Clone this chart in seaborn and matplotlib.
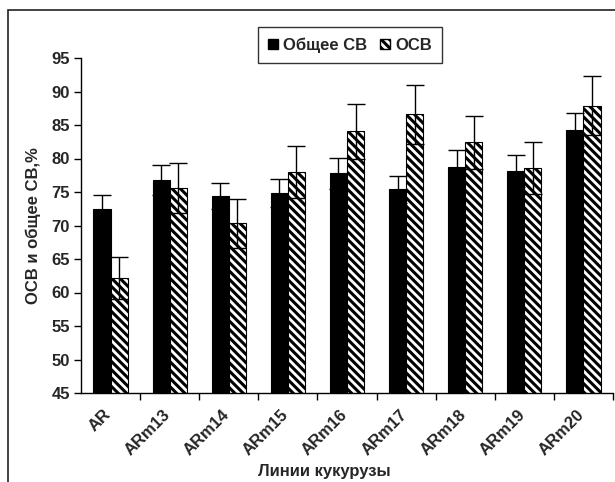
import numpy as np
import pandas as pd
import matplotlib
matplotlib.use('Agg')
import matplotlib.pyplot as plt
import matplotlib.transforms as mtransforms
import seaborn as sns
from matplotlib.patches import Patch, Rectangle

# данные
lines = ['AR', 'ARm13', 'ARm14', 'ARm15', 'ARm16', 'ARm17', 'ARm18', 'ARm19', 'ARm20']
total_dm = [72.4, 76.8, 74.4, 74.9, 77.8, 75.4, 78.8, 78.1, 84.3]   # Общее СВ
total_err = [2.2, 2.3, 2.0, 2.1, 2.3, 2.0, 2.5, 2.4, 2.5]
osv = [62.2, 75.6, 70.3, 78.0, 84.1, 86.6, 82.4, 78.6, 87.9]        # ОСВ
osv_err = [3.1, 3.7, 3.6, 3.9, 4.1, 4.4, 4.0, 3.9, 4.4]
series = ['Общее СВ', 'ОСВ']

df = pd.DataFrame({
    'line': lines * 2,
    'value': total_dm + osv,
    'series': [series[0]] * len(lines) + [series[1]] * len(lines),
})

sns.set_style('ticks')
plt.rcParams['font.family'] = ['Liberation Sans', 'DejaVu Sans']
plt.rcParams['font.weight'] = 'bold'
plt.rcParams['hatch.linewidth'] = 2.2

fs = 12

fig = plt.figure(figsize=(6.15, 4.82), dpi=100)
ax = fig.add_axes([81 / 615, 1 - 393 / 482, 532 / 615, 335 / 482])

sns.barplot(data=df, x='line', y='value', hue='series', palette=['black', 'white'],
            width=0.58, gap=0, errorbar=None, edgecolor='black', linewidth=0.8,
            legend=False, ax=ax)

# штриховка для ОСВ
for p in ax.containers[1]:
    p.set_hatch('\\\\\\\\')

# планки погрешностей
for cont, err in zip(ax.containers, [total_err, osv_err]):
    xs = [p.get_x() + p.get_width() / 2 for p in cont]
    ys = [p.get_height() for p in cont]
    ax.errorbar(xs, ys, yerr=err, fmt='none', ecolor='black', elinewidth=1,
                capsize=6.5, capthick=1, zorder=5)

ax.set_ylim(45, 95)
ax.set_yticks(range(45, 96, 5))
ax.set_xlim(-0.5, 8.5)
ax.set_xticks(range(len(lines)))
ax.set_xticklabels(lines, rotation=45, ha='right', va='top', rotation_mode='anchor')
ax.set_xticks(np.arange(0.5, 9, 1), minor=True)
ax.tick_params(axis='x', which='major', length=0, pad=10, labelsize=fs)
ax.tick_params(axis='x', which='minor', length=5, width=1, color='black', direction='out')
ax.tick_params(axis='y', length=5, width=1, color='black', direction='out', pad=3, labelsize=fs)
# подписи чуть левее, как в оригинале
shift = mtransforms.ScaledTranslation(-7 / 100, 0, fig.dpi_scale_trans)
for lbl in ax.get_xticklabels():
    lbl.set_transform(lbl.get_transform() + shift)
for lbl in ax.get_xticklabels() + ax.get_yticklabels():
    lbl.set_fontweight('bold')

sns.despine(ax=ax)
ax.spines['left'].set_color('black')
ax.spines['bottom'].set_color('black')
ax.spines['left'].set_linewidth(1)
ax.spines['bottom'].set_linewidth(1)

ax.set_xlabel('Линии кукурузы', fontsize=fs, fontweight='bold')
ax.set_ylabel('ОСВ и общее СВ,%', fontsize=fs, fontweight='bold')
ax.xaxis.set_label_coords(0.457, -0.233)
ax.xaxis.label.set_va('center')
ax.yaxis.set_label_coords(-0.09, 0.5)
ax.yaxis.label.set_va('center')

handles = [Patch(facecolor='black', edgecolor='black'),
           Patch(facecolor='white', edgecolor='black', hatch='\\\\\\\\')]
leg = fig.legend(handles, series, loc='center', bbox_to_anchor=(350 / 615, 1 - 45 / 482),
                 ncol=2, frameon=True, fancybox=False, edgecolor='black',
                 prop={'weight': 'bold', 'size': fs}, handlelength=0.6, handleheight=0.6,
                 handletextpad=0.3, columnspacing=0.8, borderpad=0.6)
leg.get_frame().set_linewidth(1)

# рамка области диаграммы
fig.patches.append(Rectangle((8 / 615, -0.1), 1.2, 1.1 - 10 / 482, transform=fig.transFigure,
                             fill=False, edgecolor='#222222', linewidth=1.2))

fig.savefig('out.png', dpi=100)
